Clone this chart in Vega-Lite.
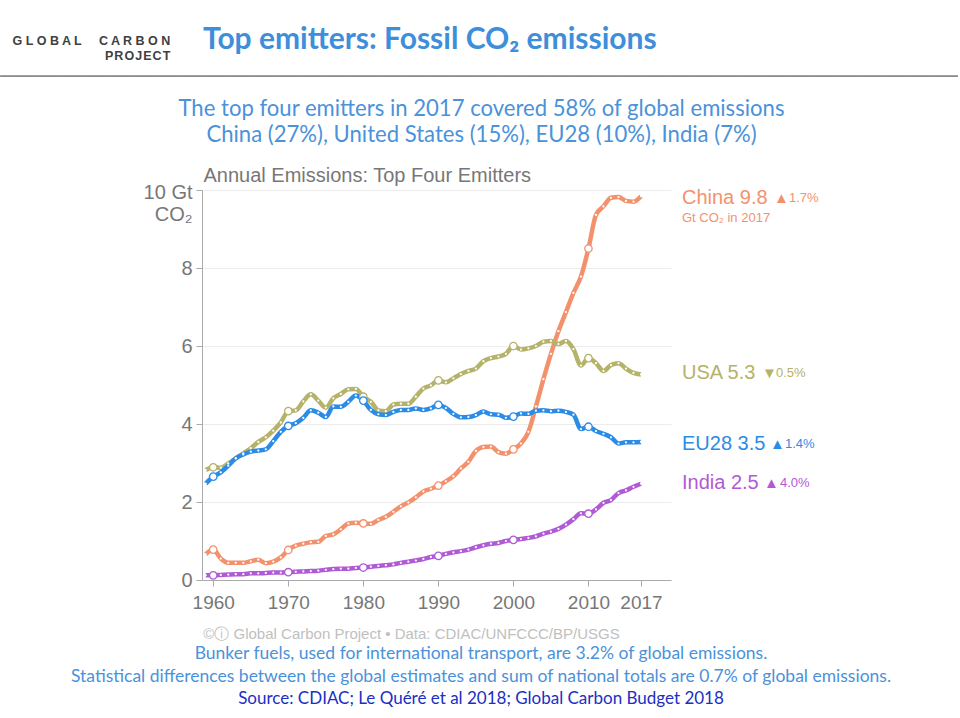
{
  "$schema": "https://vega.github.io/schema/vega-lite/v6.json",
  "background": "white",
  "padding": {"left": 0, "right": 0, "top": 24, "bottom": 0},
  "config": {"view": {"stroke": null}, "concat": {"spacing": 0}},
  "title": {
    "text": ["G L O B A L\u00a0\u00a0\u00a0\u00a0\u00a0C A R B O N", "P\u200aR\u200aO\u200aJ\u200aE\u200aC\u200aT"],
    "orient": "left", "anchor": "end", "frame": "group", "angle": 0, "align": "right", "baseline": "top",
    "font": "Liberation Sans", "fontSize": 12.5, "fontWeight": "bold", "color": "#404040", "lineHeight": 15,
    "offset": 0, "dx": 330, "dy": -155
  },
  "vconcat": [{
    "title": {"text": "Top emitters: Fossil CO₂ emissions", "anchor": "start", "frame": "group", "font": "Lato", "fontSize": 30, "fontWeight": "bold", "color": "#3D8EDB", "dx": 1, "offset": 12},
    "vconcat": [{
      "title": {"text": "───────────────────────────────────────────────────────────────────────────────", "anchor": "start", "frame": "group", "font": "DejaVu Sans", "fontSize": 20.15, "fontWeight": "normal", "color": "#8c8c8c", "baseline": "middle", "dx": -202, "offset": 1},
      "vconcat": [{
        "title": {
          "text": ["Bunker fuels, used for international transport, are 3.2% of global emissions.", "Statistical differences between the global estimates and sum of national totals are 0.7% of global emissions."],
          "subtitle": "Source: CDIAC; Le Quéré et al 2018; Global Carbon Budget 2018",
          "orient": "bottom", "anchor": "middle", "frame": "group", "dx": 279,
          "font": "Lato", "fontSize": 17.5, "fontWeight": "normal", "color": "#4A92DA", "lineHeight": 23,
          "subtitleFont": "Lato", "subtitleFontSize": 17, "subtitleColor": "#1a2fc4", "subtitlePadding": 5.5, "offset": 4
        },
        "vconcat": [{
          "width": 469,
          "height": 390,
          "title": {
            "text": ["The top four emitters in 2017 covered 58% of global emissions", "China (27%), United States (15%), EU28 (10%), India (7%)"],
            "anchor": "middle", "frame": "group", "dx": 45, "font": "Lato", "fontSize": 22.1, "fontWeight": "normal", "color": "#4A92DA", "lineHeight": 26, "offset": 18
          },
          "data": {"values": [
            {"year": 1959, "China": 0.66, "USA": 2.82, "EU28": 2.47, "India": 0.12},
            {"year": 1960, "China": 0.78, "USA": 2.89, "EU28": 2.65, "India": 0.12},
            {"year": 1961, "China": 0.55, "USA": 2.88, "EU28": 2.76, "India": 0.13},
            {"year": 1962, "China": 0.44, "USA": 2.99, "EU28": 2.93, "India": 0.14},
            {"year": 1963, "China": 0.44, "USA": 3.12, "EU28": 3.12, "India": 0.15},
            {"year": 1964, "China": 0.44, "USA": 3.25, "EU28": 3.22, "India": 0.15},
            {"year": 1965, "China": 0.48, "USA": 3.38, "EU28": 3.29, "India": 0.17},
            {"year": 1966, "China": 0.52, "USA": 3.54, "EU28": 3.32, "India": 0.17},
            {"year": 1967, "China": 0.43, "USA": 3.66, "EU28": 3.35, "India": 0.18},
            {"year": 1968, "China": 0.47, "USA": 3.83, "EU28": 3.56, "India": 0.19},
            {"year": 1969, "China": 0.58, "USA": 4.04, "EU28": 3.80, "India": 0.19},
            {"year": 1970, "China": 0.77, "USA": 4.33, "EU28": 3.95, "India": 0.20},
            {"year": 1971, "China": 0.88, "USA": 4.35, "EU28": 4.02, "India": 0.21},
            {"year": 1972, "China": 0.93, "USA": 4.58, "EU28": 4.16, "India": 0.22},
            {"year": 1973, "China": 0.97, "USA": 4.76, "EU28": 4.35, "India": 0.23},
            {"year": 1974, "China": 0.98, "USA": 4.60, "EU28": 4.29, "India": 0.24},
            {"year": 1975, "China": 1.13, "USA": 4.42, "EU28": 4.18, "India": 0.26},
            {"year": 1976, "China": 1.17, "USA": 4.66, "EU28": 4.45, "India": 0.28},
            {"year": 1977, "China": 1.30, "USA": 4.77, "EU28": 4.44, "India": 0.29},
            {"year": 1978, "China": 1.45, "USA": 4.89, "EU28": 4.57, "India": 0.29},
            {"year": 1979, "China": 1.47, "USA": 4.90, "EU28": 4.73, "India": 0.31},
            {"year": 1980, "China": 1.45, "USA": 4.70, "EU28": 4.60, "India": 0.32},
            {"year": 1981, "China": 1.44, "USA": 4.57, "EU28": 4.36, "India": 0.34},
            {"year": 1982, "China": 1.54, "USA": 4.35, "EU28": 4.25, "India": 0.36},
            {"year": 1983, "China": 1.62, "USA": 4.33, "EU28": 4.23, "India": 0.38},
            {"year": 1984, "China": 1.75, "USA": 4.50, "EU28": 4.31, "India": 0.40},
            {"year": 1985, "China": 1.89, "USA": 4.52, "EU28": 4.36, "India": 0.44},
            {"year": 1986, "China": 1.99, "USA": 4.52, "EU28": 4.36, "India": 0.47},
            {"year": 1987, "China": 2.12, "USA": 4.70, "EU28": 4.40, "India": 0.50},
            {"year": 1988, "China": 2.27, "USA": 4.91, "EU28": 4.36, "India": 0.54},
            {"year": 1989, "China": 2.34, "USA": 4.99, "EU28": 4.40, "India": 0.59},
            {"year": 1990, "China": 2.42, "USA": 5.12, "EU28": 4.49, "India": 0.62},
            {"year": 1991, "China": 2.53, "USA": 5.07, "EU28": 4.41, "India": 0.67},
            {"year": 1992, "China": 2.66, "USA": 5.17, "EU28": 4.26, "India": 0.71},
            {"year": 1993, "China": 2.86, "USA": 5.28, "EU28": 4.17, "India": 0.74},
            {"year": 1994, "China": 3.03, "USA": 5.36, "EU28": 4.18, "India": 0.78},
            {"year": 1995, "China": 3.31, "USA": 5.42, "EU28": 4.23, "India": 0.84},
            {"year": 1996, "China": 3.41, "USA": 5.61, "EU28": 4.32, "India": 0.89},
            {"year": 1997, "China": 3.42, "USA": 5.69, "EU28": 4.25, "India": 0.93},
            {"year": 1998, "China": 3.28, "USA": 5.73, "EU28": 4.24, "India": 0.95},
            {"year": 1999, "China": 3.24, "USA": 5.80, "EU28": 4.16, "India": 1.00},
            {"year": 2000, "China": 3.35, "USA": 6.00, "EU28": 4.19, "India": 1.03},
            {"year": 2001, "China": 3.50, "USA": 5.91, "EU28": 4.27, "India": 1.05},
            {"year": 2002, "China": 3.80, "USA": 5.94, "EU28": 4.26, "India": 1.08},
            {"year": 2003, "China": 4.45, "USA": 6.00, "EU28": 4.34, "India": 1.12},
            {"year": 2004, "China": 5.15, "USA": 6.11, "EU28": 4.35, "India": 1.19},
            {"year": 2005, "China": 5.80, "USA": 6.13, "EU28": 4.33, "India": 1.24},
            {"year": 2006, "China": 6.38, "USA": 6.05, "EU28": 4.34, "India": 1.31},
            {"year": 2007, "China": 6.87, "USA": 6.13, "EU28": 4.31, "India": 1.42},
            {"year": 2008, "China": 7.36, "USA": 5.92, "EU28": 4.24, "India": 1.56},
            {"year": 2009, "China": 7.78, "USA": 5.50, "EU28": 3.87, "India": 1.71},
            {"year": 2010, "China": 8.50, "USA": 5.69, "EU28": 3.93, "India": 1.70},
            {"year": 2011, "China": 9.36, "USA": 5.56, "EU28": 3.82, "India": 1.81},
            {"year": 2012, "China": 9.58, "USA": 5.36, "EU28": 3.75, "India": 1.98},
            {"year": 2013, "China": 9.80, "USA": 5.51, "EU28": 3.66, "India": 2.05},
            {"year": 2014, "China": 9.82, "USA": 5.56, "EU28": 3.50, "India": 2.23},
            {"year": 2015, "China": 9.72, "USA": 5.42, "EU28": 3.53, "India": 2.30},
            {"year": 2016, "China": 9.70, "USA": 5.31, "EU28": 3.53, "India": 2.39},
            {"year": 2017, "China": 9.84, "USA": 5.27, "EU28": 3.54, "India": 2.47}
          ]},
          "layer": [
            {
              "transform": [{"fold": ["China", "USA", "EU28", "India"], "as": ["country", "value"]}],
              "mark": {"type": "line", "strokeWidth": 4.5, "interpolate": "monotone", "strokeJoin": "round"},
              "encoding": {
                "x": {"field": "year", "type": "quantitative",
                  "scale": {"domain": [1958.5, 2021], "nice": false, "zero": false},
                  "axis": {
                    "values": [1960, 1970, 1980, 1990, 2000, 2010, 2017], "format": "d",
                    "labelFont": "Liberation Sans", "labelFontSize": 19, "labelColor": "#777777", "labelPadding": 7, "labelFlush": false,
                    "tickSize": 6, "tickColor": "#aaaaaa", "domainColor": "#aaaaaa", "grid": false,
                    "title": "©ⓘ Global Carbon Project  •  Data: CDIAC/UNFCCC/BP/USGS",
                    "titleFont": "Liberation Sans", "titleFontSize": 15, "titleFontWeight": "normal", "titleColor": "#c0c0c0",
                    "titleX": 209, "titleY": 58, "titleAlign": "center", "titleBaseline": "alphabetic"
                  }
                },
                "y": {"field": "value", "type": "quantitative",
                  "scale": {"domain": [0, 10], "nice": false},
                  "axis": {
                    "values": [0, 2, 4, 6, 8, 10],
                    "labelExpr": "datum.value == 10 ? ['10 Gt', 'CO₂'] : datum.label",
                    "labelOffset": {"condition": {"test": "datum.value == 10", "value": 2}, "value": 0},
                    "labelFont": "Liberation Sans", "labelFontSize": 20, "labelColor": "#777777", "labelPadding": 4,
                    "labelOverlap": false, "labelFlush": false,
                    "tickSize": 6, "tickColor": "#aaaaaa", "domainColor": "#aaaaaa", "gridColor": "#ececec",
                    "title": "Annual Emissions: Top Four Emitters", "titleAngle": 0, "titleX": 1, "titleY": -9,
                    "titleAlign": "left", "titleBaseline": "alphabetic", "titleFont": "Liberation Sans",
                    "titleFontSize": 20, "titleFontWeight": "normal", "titleColor": "#777777"
                  }
                },
                "color": {"field": "country", "type": "nominal",
                  "scale": {"domain": ["China", "USA", "EU28", "India"], "range": ["#F4916D", "#B5B26A", "#2B8CE6", "#B15AD6"]},
                  "legend": null}
              }
            },
            {
              "transform": [{"fold": ["China", "USA", "EU28", "India"], "as": ["country", "value"]}],
              "mark": {"type": "circle", "color": "white", "size": 5, "opacity": 1},
              "encoding": {
                "x": {"field": "year", "type": "quantitative"},
                "y": {"field": "value", "type": "quantitative"}
              }
            },
            {
              "transform": [
                {"fold": ["China", "USA", "EU28", "India"], "as": ["country", "value"]},
                {"filter": "datum.year % 10 == 0"}
              ],
              "mark": {"type": "point", "filled": true, "fill": "white", "size": 55, "strokeWidth": 1.3, "opacity": 1},
              "encoding": {
                "x": {"field": "year", "type": "quantitative"},
                "y": {"field": "value", "type": "quantitative"},
                "stroke": {"field": "country", "type": "nominal",
                  "scale": {"domain": ["China", "USA", "EU28", "India"], "range": ["#F4916D", "#B5B26A", "#2B8CE6", "#B15AD6"]},
                  "legend": null}
              }
            },
            {
              "data": {"values": [
                {"country": "China", "year": 2017, "value": 9.8, "name": "China 9.8", "tri": "▲", "pct": "1.7%", "sub": "Gt CO₂ in 2017"},
                {"country": "USA", "year": 2017, "value": 5.3, "name": "USA 5.3", "tri": "▼", "pct": "0.5%", "sub": ""},
                {"country": "EU28", "year": 2017, "value": 3.5, "name": "EU28 3.5", "tri": "▲", "pct": "1.4%", "sub": ""},
                {"country": "India", "year": 2017, "value": 2.5, "name": "India 2.5", "tri": "▲", "pct": "4.0%", "sub": ""}
              ]},
              "encoding": {
                "x": {"field": "year", "type": "quantitative"},
                "y": {"field": "value", "type": "quantitative"},
                "color": {"field": "country", "type": "nominal", "legend": null}
              },
              "layer": [
                {
                  "mark": {"type": "text", "align": "left", "baseline": "middle", "dx": 41, "font": "Liberation Sans", "fontSize": 20},
                  "encoding": {"text": {"field": "name"}}
                },
                {
                  "mark": {"type": "text", "align": "left", "baseline": "middle", "dx": 41, "dy": 20, "font": "Liberation Sans", "fontSize": 13},
                  "encoding": {"text": {"field": "sub"}}
                },
                {
                  "transform": [{"filter": "datum.country == 'China'"}],
                  "mark": {"type": "text", "align": "left", "baseline": "middle", "dx": 133, "font": "Liberation Sans", "fontSize": 15},
                  "encoding": {"text": {"field": "tri"}}
                },
                {
                  "transform": [{"filter": "datum.country == 'China'"}],
                  "mark": {"type": "text", "align": "left", "baseline": "middle", "dx": 148, "font": "Liberation Sans", "fontSize": 13},
                  "encoding": {"text": {"field": "pct"}}
                },
                {
                  "transform": [{"filter": "datum.country == 'USA'"}],
                  "mark": {"type": "text", "align": "left", "baseline": "middle", "dx": 121, "font": "Liberation Sans", "fontSize": 15},
                  "encoding": {"text": {"field": "tri"}}
                },
                {
                  "transform": [{"filter": "datum.country == 'USA'"}],
                  "mark": {"type": "text", "align": "left", "baseline": "middle", "dx": 135, "font": "Liberation Sans", "fontSize": 13},
                  "encoding": {"text": {"field": "pct"}}
                },
                {
                  "transform": [{"filter": "datum.country == 'EU28'"}],
                  "mark": {"type": "text", "align": "left", "baseline": "middle", "dx": 129, "font": "Liberation Sans", "fontSize": 15},
                  "encoding": {"text": {"field": "tri"}}
                },
                {
                  "transform": [{"filter": "datum.country == 'EU28'"}],
                  "mark": {"type": "text", "align": "left", "baseline": "middle", "dx": 144, "font": "Liberation Sans", "fontSize": 13},
                  "encoding": {"text": {"field": "pct"}}
                },
                {
                  "transform": [{"filter": "datum.country == 'India'"}],
                  "mark": {"type": "text", "align": "left", "baseline": "middle", "dx": 123, "font": "Liberation Sans", "fontSize": 15},
                  "encoding": {"text": {"field": "tri"}}
                },
                {
                  "transform": [{"filter": "datum.country == 'India'"}],
                  "mark": {"type": "text", "align": "left", "baseline": "middle", "dx": 139, "font": "Liberation Sans", "fontSize": 13},
                  "encoding": {"text": {"field": "pct"}}
                }
              ]
            }
          ]
        }]
      }]
    }]
  }]
}
